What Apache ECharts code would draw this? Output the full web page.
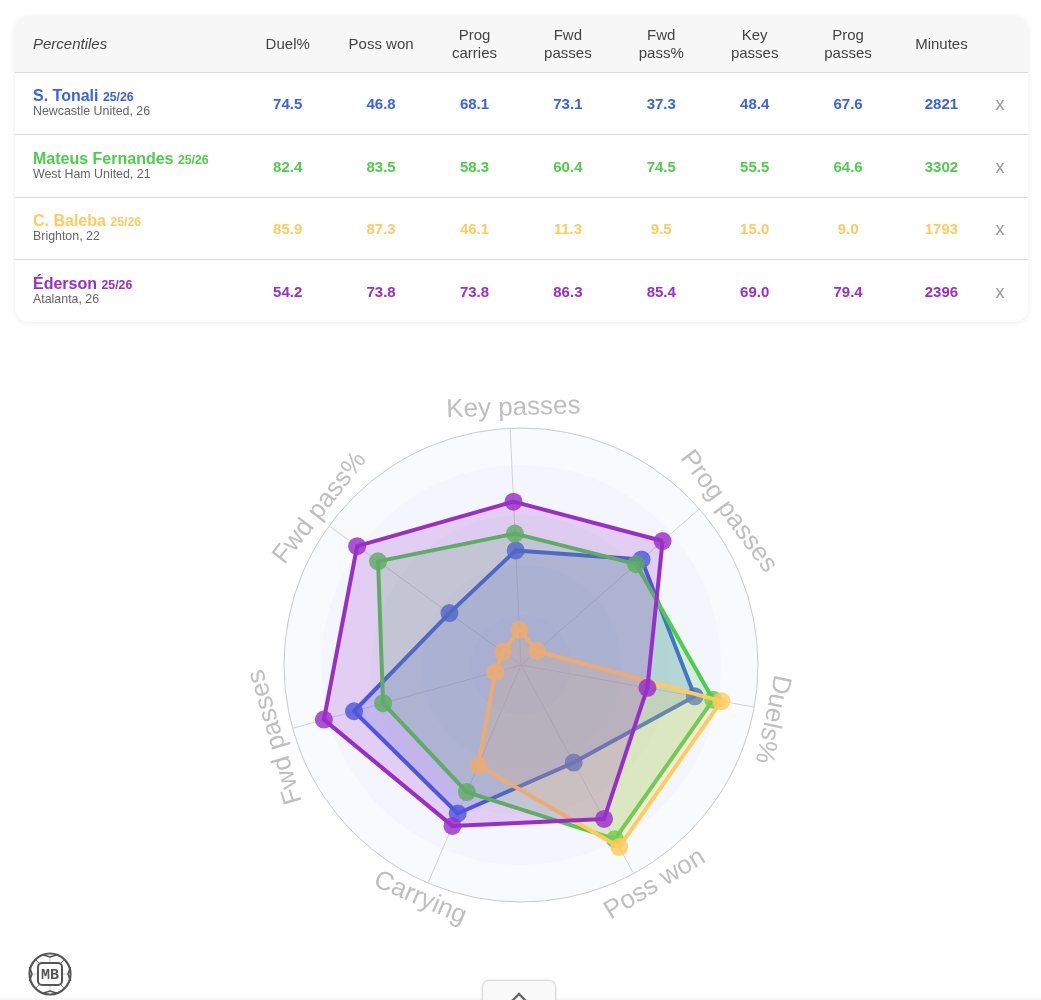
<!DOCTYPE html>
<html>
<head>
<meta charset="utf-8">
<script src="https://cdn.jsdelivr.net/npm/echarts@6/dist/echarts.min.js"></script>
<style>
html,body{margin:0;padding:0;width:1041px;height:1000px;overflow:hidden;background:#fff;font-family:"Liberation Sans",Arial,sans-serif;}
#chart{position:absolute;left:0;top:0;width:1041px;height:1000px;}
#card{position:absolute;left:15px;top:16px;width:1013px;height:306px;background:#fff;border-radius:14px;box-shadow:0 1px 6px rgba(0,0,0,.08);overflow:hidden;}
table{border-collapse:collapse;table-layout:fixed;width:1013px;}
th{background:#f7f7f7;font-weight:400;font-size:15px;line-height:18px;color:#444;height:56px;padding:0;border-bottom:1px solid #ddd;text-align:center;}
th.p{font-style:italic;text-align:left;padding-left:18px;font-size:15px;}
td{padding:0;text-align:center;font-weight:700;font-size:15px;border-bottom:1px solid #ddd;}
tr:last-child td{border-bottom:none;}
td.n{text-align:left;padding-left:18px;font-weight:400;}
.nm{font-size:16px;font-weight:700;line-height:14px;display:block;}
.nm small{font-size:12.3px;font-weight:700;}
.cl{font-size:12.4px;color:#666;line-height:14px;display:block;font-weight:400;}
td.x{color:#999;font-weight:400;font-size:18px;padding:2px 16px 0 0;text-align:center;}
#foot{position:absolute;left:0;right:0;top:998px;height:2px;background:#f6f6f6;}
#btn{position:absolute;left:482px;top:980px;width:72px;height:30px;background:#f9f9f9;border:1px solid #d8d8d8;border-radius:7px;box-shadow:0 0 3px rgba(0,0,0,.12);}
#logo{position:absolute;left:27px;top:951px;}
</style>
</head>
<body>
<div id="chart"></div>
<div id="card"><table id="tbl"></table></div>
<svg id="logo" width="46" height="46" viewBox="0 0 46 46">
  <circle cx="23" cy="23" r="20.5" fill="#fff" stroke="#555" stroke-width="2.2"/>
  <path d="M23 3V43M3 23H43" stroke="#c9c6d6" stroke-width="1"/>
  <path d="M9 9L15 15M37 9L31 15M9 37L15 31M37 37L31 31" stroke="#777" stroke-width="1"/>
  <path d="M15 3.5L23 6L31 3.5M15 42.5L23 40L31 42.5M2.5 16L5 23L2.5 30M43.500 16L41 23L43.500 30" fill="none" stroke="#555" stroke-width="1.6"/>
  <rect x="11" y="12" width="24" height="22" rx="4" fill="#fff" stroke="#555" stroke-width="2"/>
  <text x="23" y="28" text-anchor="middle" font-family="Liberation Mono,DejaVu Sans Mono,monospace" font-weight="700" font-size="14" fill="#555" textLength="18" lengthAdjust="spacingAndGlyphs">MB</text>
</svg>
<div id="foot"></div>
<div id="btn"><svg width="72" height="20" style="position:absolute;left:0;top:0"><path d="M29 20L36 13L43 20" fill="none" stroke="#666" stroke-width="2.400"/></svg></div>
<script>
// table columns
const tableHeaders = ['Duel%', 'Poss won', 'Prog<br>carries', 'Fwd<br>passes', 'Fwd<br>pass%', 'Key<br>passes', 'Prog<br>passes', 'Minutes'];
// radar axis names, same metric order as the table
const axisNames = ['Duels%', 'Poss won', 'Carrying', 'Fwd passes', 'Fwd pass%', 'Key passes', 'Prog passes'];
const playerNames = ['S. Tonali', 'Mateus Fernandes', 'C. Baleba', 'Éderson'];
const seasons = ['25/26', '25/26', '25/26', '25/26'];
const clubs = ['Newcastle United, 26', 'West Ham United, 21', 'Brighton, 22', 'Atalanta, 26'];
const colors = ['#3a62e4', '#50cc4c', '#ffcb5e', '#9a2ec8'];
const tonali = [74.5, 46.8, 68.1, 73.1, 37.3, 48.4, 67.6];
const fernandes = [82.4, 83.5, 58.3, 60.4, 74.5, 55.5, 64.6];
const baleba = [85.9, 87.3, 46.1, 11.3, 9.5, 15.0, 9.0];
const ederson = [54.2, 73.8, 73.8, 86.3, 85.4, 69.0, 79.4];
const minutes = [2821, 3302, 1793, 2396];
const allValues = [tonali, fernandes, baleba, ederson];

// ---- table ----
const widths = [226, 93.4, 93.4, 93.4, 93.4, 93.4, 93.4, 93.4, 93.4, 39.8];
const rowH = [62, 63, 62, 63];
let html = '<colgroup>' + widths.map(w => `<col style="width:${w}px">`).join('') + '</colgroup>';
html += '<tr><th class="p">Percentiles</th>' + tableHeaders.map(h => `<th>${h}</th>`).join('') + '<th></th></tr>';
playerNames.forEach((n, i) => {
  html += `<tr style="height:${rowH[i]}px;color:${colors[i]}"><td class="n"><span class="nm">${n} <small>${seasons[i]}</small></span><span class="cl">${clubs[i]}</span></td>`
    + allValues[i].map(v => `<td>${v.toFixed(1)}</td>`).join('')
    + `<td>${minutes[i]}</td><td class="x">x</td></tr>`;
});
document.getElementById('tbl').innerHTML = html;

// ---- radar ----
const CX = 521, CY = 665, R = 237, START = 41.2;
// ECharts lays indicators out counter-clockwise; the picture runs clockwise from Duels%
const rev = a => a.slice().reverse();
const indicators = rev(axisNames).map(n => ({ name: n, min: 0, max: 100 }));
const nameAngle = [-12.2, -58.6, -113.4, 196.3, 142, 91.7, 36.5];
const nameR = [257, 257, 254, 256, 255, 257, 258];
const nameFlip = [false, true, true, false, false, false, false];

const names = axisNames.map((n, i) => {
  const t = nameAngle[i] * Math.PI / 180;
  const deg = (90 - nameAngle[i]) + (nameFlip[i] ? 180 : 0);
  return {
    type: 'text',
    x: CX + nameR[i] * Math.cos(t),
    y: CY - nameR[i] * Math.sin(t),
    rotation: -deg * Math.PI / 180,
    z: 50,
    style: { text: n, font: '26px "Liberation Sans",Arial,sans-serif', fill: '#bfbfbf', align: 'center', verticalAlign: 'middle' }
  };
});

const chart = echarts.init(document.getElementById('chart'), null, { renderer: 'canvas' });
chart.setOption({
  animation: false,
  radar: [
    {
      center: [CX, CY], radius: R, startAngle: START, shape: 'circle', splitNumber: 1, indicator: indicators,
      axisName: { show: false }, axisTick: { show: false }, axisLabel: { show: false },
      axisLine: { show: true, lineStyle: { color: '#d2d2d2', width: 1 } },
      splitLine: { show: true, lineStyle: { color: '#c9c9c9', width: 1 } },
      splitArea: { show: true, areaStyle: { color: ['#f8fbfe'] } }
    },
    {
      center: [CX, CY], radius: 200, startAngle: START, shape: 'circle', splitNumber: 4, indicator: indicators,
      axisName: { show: false }, axisTick: { show: false }, axisLabel: { show: false },
      axisLine: { show: false }, splitLine: { show: false },
      splitArea: { show: true, areaStyle: { color: ['rgba(100,140,210,0.12)', 'rgba(100,140,210,0.09)', 'rgba(100,140,210,0.06)', 'rgba(100,140,210,0.03)'] } }
    }
  ],
  graphic: names,
  series: playerNames.map((n, i) => ({
    type: 'radar',
    radarIndex: 0,
    name: n,
    z: 3 + i,
    symbol: 'circle',
    symbolSize: 18,
    lineStyle: { color: colors[i], width: 4, opacity: 1 },
    itemStyle: { color: colors[i], opacity: 0.82, borderWidth: 0 },
    areaStyle: { color: colors[i], opacity: 0.2 },
    data: [{ value: rev(allValues[i]), name: n }]
  }))
});
</script>
</body>
</html>
